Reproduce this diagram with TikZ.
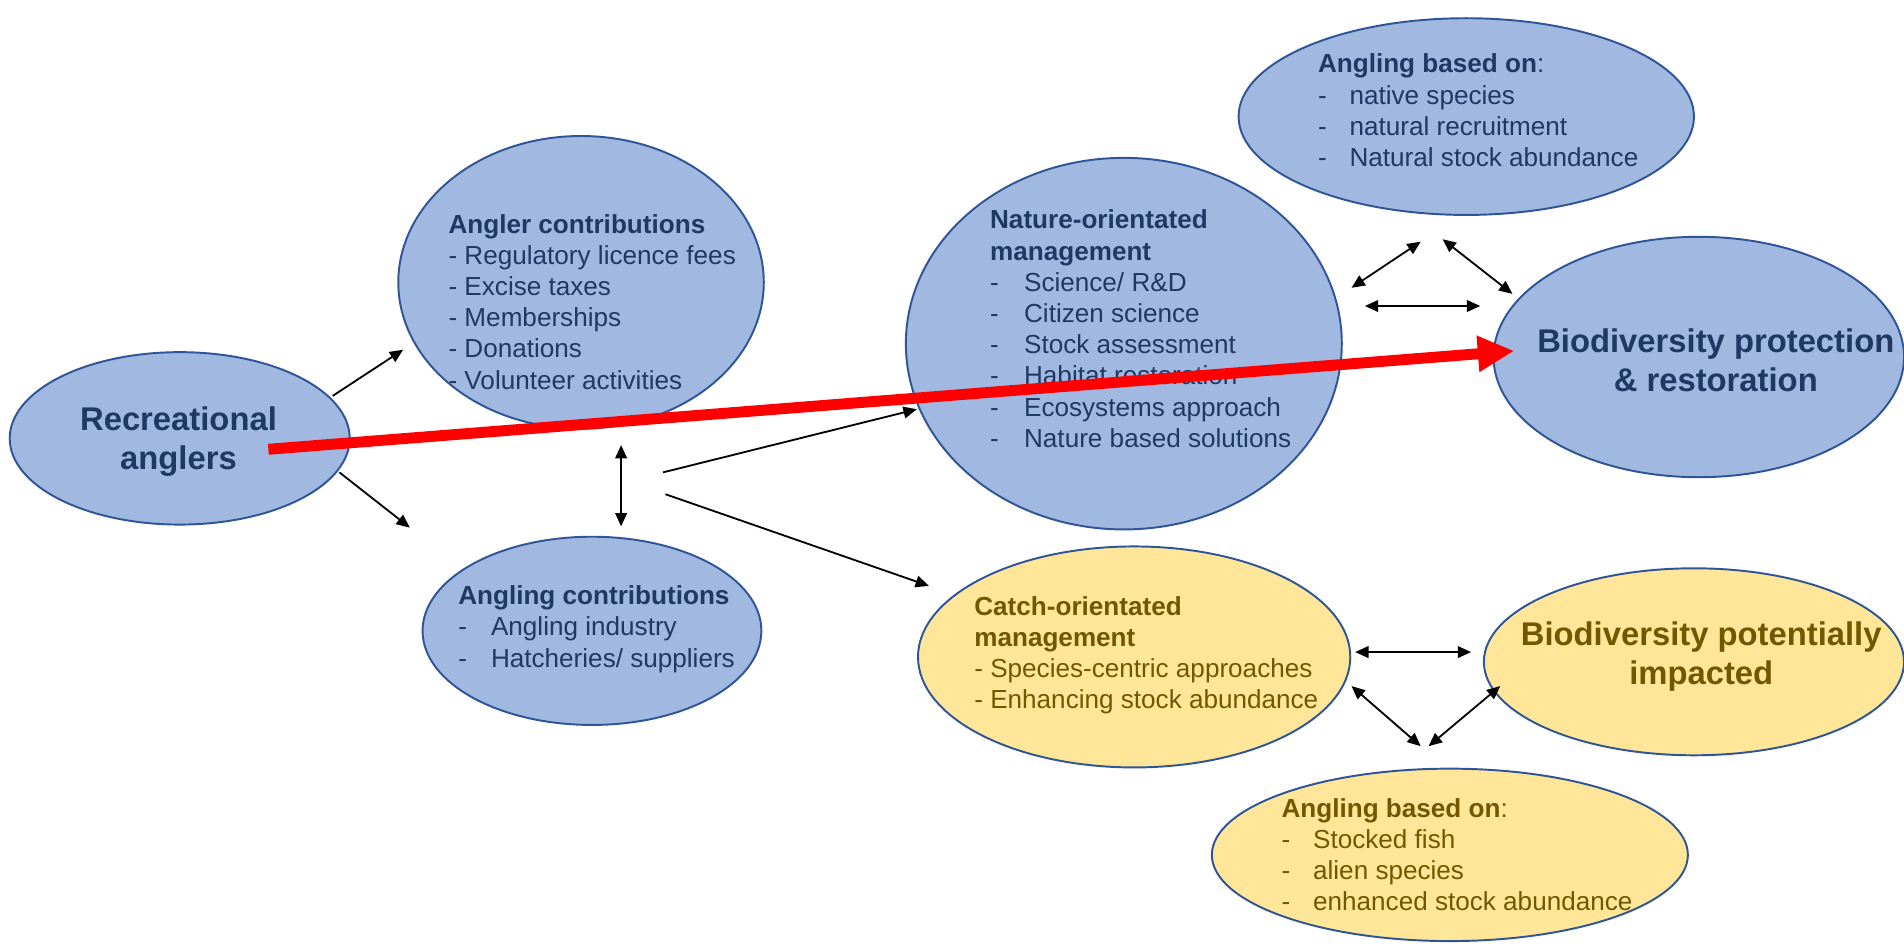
\documentclass[tikz,border=0pt]{standalone}
\usepackage{fontspec}
\setmainfont{Liberation Sans}
\usetikzlibrary{arrows.meta,shapes.geometric}
\definecolor{bfill}{HTML}{A1B8E1}
\definecolor{bline}{HTML}{2F5597}
\definecolor{btext}{HTML}{203864}
\definecolor{yfill}{HTML}{FFE699}
\definecolor{ytext}{HTML}{735700}
\newcommand\dsh[1]{\makebox[#1][l]{-}}
\begin{document}
\begin{tikzpicture}[x=0.5pt,y=-0.5pt,
  ell/.style={ellipse, draw=bline, line width=0.8pt, inner sep=0},
  blueell/.style={ell, fill=bfill},
  yellell/.style={ell, fill=yfill},
  small/.style={font=\fontsize{10.75}{12.85}\selectfont, anchor=north west, inner sep=0, align=left},
  big/.style={font=\fontsize{13.5}{16}\selectfont\bfseries, align=center, inner sep=0},
  conn/.style={line width=0.75pt, -{Triangle[length=5.5pt,width=4.8pt]}},
  dconn/.style={line width=0.75pt, {Triangle[length=5.5pt,width=4.8pt]}-{Triangle[length=5.5pt,width=4.8pt]}},
  redarrow/.style={red, line width=4.5pt, -{Triangle[length=15pt,width=14pt]}}
]
\useasboundingbox (0,0) rectangle (1568,777);

% ellipses
\node[blueell, minimum width=140pt, minimum height=71pt] (rec) at (148,361) {};
\node[blueell, minimum width=150.5pt, minimum height=120.5pt] (angc) at (478.5,232.5) {};
\node[blueell, minimum width=139.5pt, minimum height=77.5pt] (angl) at (487.5,519.5) {};
\node[blueell, minimum width=179.5pt, minimum height=153pt] (nat) at (925.5,283) {};
\node[blueell, minimum width=187.5pt, minimum height=81pt] (nbase) at (1207.5,96) {};
\node[blueell, minimum width=169pt, minimum height=99pt] (bprot) at (1399,294) {};
\node[yellell, minimum width=178pt, minimum height=91pt] (catch) at (934,541) {};
\node[yellell, minimum width=173pt, minimum height=77pt] (bimp) at (1395,545) {};
\node[yellell, minimum width=196pt, minimum height=71pt] (cbase) at (1194,704) {};

% texts
\node[big, text=btext] (rect) at (147,364) {Recreational\\anglers};
\node[small, text=btext] (angct) at (369,176) {\textbf{Angler contributions}\\- Regulatory licence fees\\- Excise taxes\\- Memberships\\- Donations\\- Volunteer activities};
\node[small, text=btext] (anglt) at (377,482) {\textbf{Angling contributions}\\\dsh{13.5pt}Angling industry\\\dsh{13.5pt}Hatcheries/ suppliers};
\node[small, text=btext] (natt) at (815,172.5) {\textbf{Nature-orientated}\\\textbf{management}\\\dsh{14pt}Science/ R\&D\\\dsh{14pt}Citizen science\\\dsh{14pt}Stock assessment\\\dsh{14pt}Habitat restoration\\\dsh{14pt}Ecosystems approach\\\dsh{14pt}Nature based solutions};
\node[small, text=btext] (nbaset) at (1085,44) {\textbf{Angling based on}:\\\dsh{13pt}native species\\\dsh{13pt}natural recruitment\\\dsh{13pt}Natural stock abundance};
\node[big, text=btext] (bprott) at (1413,297) {Biodiversity protection\\\& restoration};
\node[small, text=ytext] (catcht) at (802,490.5) {\textbf{Catch-orientated}\\\textbf{management}\\- Species-centric approaches\\- Enhancing stock abundance};
\node[big, text=ytext] (bimpt) at (1401,541) {Biodiversity potentially\\impacted};
\node[small, text=ytext] (cbaset) at (1055,657) {\textbf{Angling based on}:\\\dsh{13pt}Stocked fish\\\dsh{13pt}alien species\\\dsh{13pt}enhanced stock abundance};

% connector end points
\coordinate (a1s) at (274,326); \coordinate (a1e) at (332,288);
\coordinate (a2s) at (279.5,389); \coordinate (a2e) at (337.5,434.5);
\coordinate (v1) at (511.5,366.5); \coordinate (v2) at (511.5,433.5);
\coordinate (d1s) at (546,389); \coordinate (d1e) at (755,337);
\coordinate (e1s) at (548,407); \coordinate (e1e) at (765,482.5);
\coordinate (t1a) at (1113,237); \coordinate (t1b) at (1170,199);
\coordinate (t2a) at (1188,197); \coordinate (t2b) at (1245.5,242);
\coordinate (t3a) at (1124,252); \coordinate (t3b) at (1219,252);
\coordinate (b1a) at (1116,537); \coordinate (b1b) at (1211.5,537);
\coordinate (b2a) at (1113,565); \coordinate (b2b) at (1170,614.5);
\coordinate (b3a) at (1176.5,614.5); \coordinate (b3b) at (1235.5,565);
\coordinate (r1) at (221,370); \coordinate (r2) at (1247,289);

% connectors
\draw[conn] (a1s) -- (a1e);
\draw[conn] (a2s) -- (a2e);
\draw[dconn] (v1) -- (v2);
\draw[conn] (d1s) -- (d1e);
\draw[conn] (e1s) -- (e1e);
\draw[dconn] (t1a) -- (t1b);
\draw[dconn] (t2a) -- (t2b);
\draw[dconn] (t3a) -- (t3b);
\draw[dconn] (b1a) -- (b1b);
\draw[dconn] (b2a) -- (b2b);
\draw[dconn] (b3a) -- (b3b);
\draw[redarrow] (r1) -- (r2);
\end{tikzpicture}
\end{document}
